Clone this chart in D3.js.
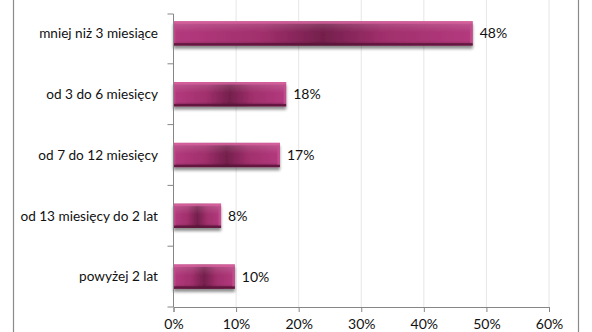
<!DOCTYPE html>
<html><head><meta charset="utf-8">
<script src="https://cdn.jsdelivr.net/npm/d3@7"></script>
<style>
html,body{margin:0;padding:0;background:#fff;}
svg{display:block;}
text{font-family:Lato,"Open Sans",sans-serif;fill:#111;}
</style></head>
<body>
<script>
const categories = ["mniej niż 3 miesiące","od 3 do 6 miesięcy","od 7 do 12 miesięcy","od 13 miesięcy do 2 lat","powyżej 2 lat"];
const values = [47.8, 18, 17, 7.6, 9.8];
const xTicks = [0,10,20,30,40,50,60];

const W = 592, H = 332;
const svg = d3.select("body").append("svg").attr("width",W).attr("height",H);
const defs = svg.append("defs");

// gradients
const hg = defs.append("linearGradient").attr("id","hg").attr("x1","0").attr("x2","1").attr("y1","0").attr("y2","0");
[[0,"#b43a7e"],[0.3,"#a02f6c"],[0.5,"#741f4c"],[0.7,"#a02f6c"],[1,"#b43a7e"]].forEach(s=>hg.append("stop").attr("offset",s[0]).attr("stop-color",s[1]));
const vg = defs.append("linearGradient").attr("id","vg").attr("x1","0").attr("x2","0").attr("y1","0").attr("y2","1");
[[0,"#ffffff",0.18],[0.45,"#ffffff",0.0],[0.8,"#000000",0.0],[1,"#000000",0.22]].forEach(s=>vg.append("stop").attr("offset",s[0]).attr("stop-color",s[1]).attr("stop-opacity",s[2]));
const sh = defs.append("filter").attr("id","sh").attr("x","-10%").attr("y","-30%").attr("width","120%").attr("height","180%");
sh.append("feGaussianBlur").attr("in","SourceAlpha").attr("stdDeviation",1.6);
sh.append("feOffset").attr("dx",0).attr("dy",2.5).attr("result","b");
sh.append("feComponentTransfer").append("feFuncA").attr("type","linear").attr("slope",0.45);
const fm = sh.append("feMerge"); fm.append("feMergeNode"); fm.append("feMergeNode").attr("in","SourceGraphic");

const x = d3.scaleLinear().domain([0,60]).range([173.5,549]);
const y = d3.scaleBand().domain(categories).range([3,307]).paddingInner(0.6).paddingOuter(0.3);
const axisTop = 14;

// outer border lines
svg.append("line").attr("x1",13.5).attr("x2",13.5).attr("y1",0).attr("y2",H).attr("stroke","#8a8a8a").attr("stroke-width",1.2);
svg.append("line").attr("x1",578.5).attr("x2",578.5).attr("y1",0).attr("y2",H).attr("stroke","#8a8a8a").attr("stroke-width",1.2);

// gridlines
svg.append("g").selectAll("line").data(xTicks.slice(1)).join("line")
  .attr("x1",d=>x(d)).attr("x2",d=>x(d)).attr("y1",0).attr("y2",307)
  .attr("stroke","#e6e6e6").attr("stroke-width",1);

// bars
const bars = svg.append("g").selectAll("g").data(categories).join("g")
  .attr("filter","url(#sh)");
const bw = (d,i)=>x(values[i])-x(0);
bars.append("rect")
  .attr("x",x(0)).attr("y",d=>y(d)).attr("width",bw).attr("height",y.bandwidth())
  .attr("fill","url(#hg)");
bars.append("rect")
  .attr("x",x(0)).attr("y",d=>y(d)).attr("width",bw).attr("height",y.bandwidth())
  .attr("fill","url(#vg)");
bars.append("rect")
  .attr("x",x(0)).attr("y",d=>y(d)).attr("width",bw).attr("height",2.5)
  .attr("fill","#d8609e").attr("opacity",0.8);
bars.append("rect")
  .attr("x",x(0)).attr("y",d=>y(d)+y.bandwidth()-2.5).attr("width",bw).attr("height",2.5)
  .attr("fill","#5a1438").attr("opacity",0.8);
bars.append("rect")
  .attr("x",(d,i)=>x(values[i])-2.5).attr("y",d=>y(d)+2.5).attr("width",2.5).attr("height",y.bandwidth()-5)
  .attr("fill","#c4508e").attr("opacity",0.8);
bars.append("rect")
  .attr("x",x(0)).attr("y",d=>y(d)+2.5).attr("width",2).attr("height",y.bandwidth()-5)
  .attr("fill","#c4508e").attr("opacity",0.6);

// value labels
const fmt = d3.format(".0f");
svg.append("g").selectAll("text").data(categories).join("text")
  .attr("x",(d,i)=>x(values[i])+7).attr("y",d=>y(d)+y.bandwidth()/2).attr("dy","0.35em")
  .attr("font-size",14).text((d,i)=>fmt(values[i])+"%");

// x axis
const xa = svg.append("g").attr("transform","translate(0,307)")
  .call(d3.axisBottom(x).tickValues(xTicks).tickFormat(d=>d+"%").tickSizeOuter(0).tickSize(5).tickPadding(7));
xa.select(".domain").attr("stroke","#868686");
xa.selectAll(".tick line").attr("stroke","#868686");
xa.selectAll("text").attr("font-size",14).attr("fill","#111").attr("font-family","Lato,sans-serif");

// y axis
const step = y.step();
const yTickPos = d3.range(categories.length+1).map(k=>k===0?axisTop:y.range()[0]+k*step);
const ya = svg.append("g");
ya.append("line").attr("x1",x(0)).attr("x2",x(0)).attr("y1",axisTop).attr("y2",307).attr("stroke","#868686");
ya.selectAll("line.t").data(yTickPos).join("line").attr("class","t")
  .attr("x1",x(0)-6).attr("x2",x(0)).attr("y1",d=>d).attr("y2",d=>d).attr("stroke","#868686");
ya.selectAll("text").data(categories).join("text")
  .attr("x",158).attr("y",d=>y(d)+y.bandwidth()/2).attr("dy","0.35em")
  .attr("text-anchor","end").attr("font-size",13.6).text(d=>d);
</script>
</body></html>
